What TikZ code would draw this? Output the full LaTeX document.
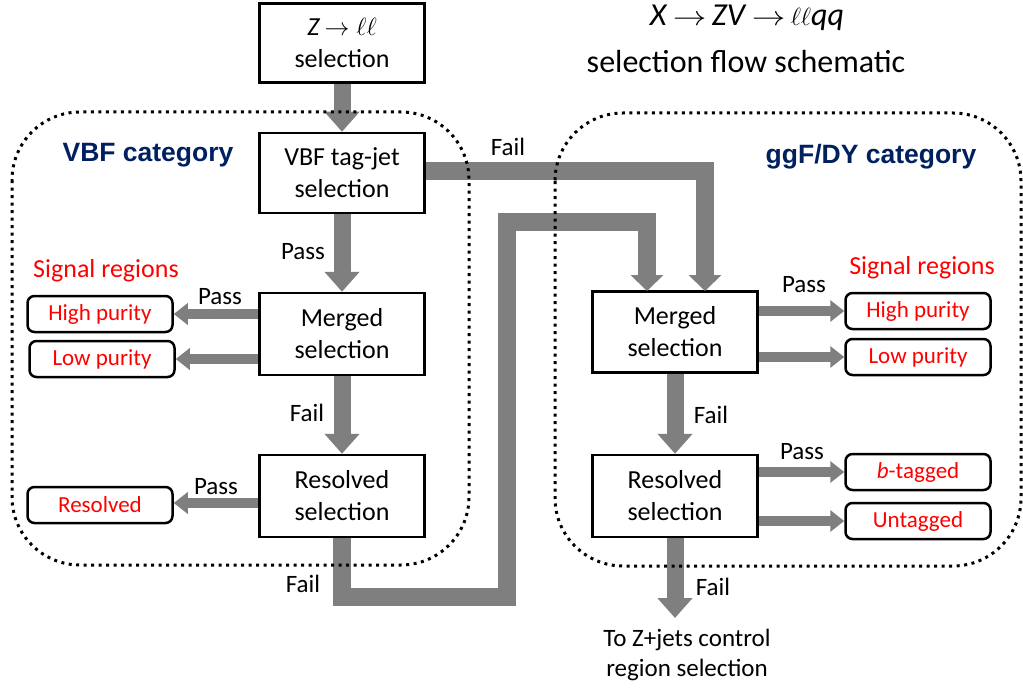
\documentclass[tikz,border=0pt]{standalone}
\usepackage{fontspec}
\setmainfont{Carlito}
\newfontfamily\catfont{Liberation Sans}
\usetikzlibrary{arrows.meta}
\definecolor{arrowgray}{HTML}{7F7F7F}
\definecolor{catblue}{HTML}{002060}
\newcommand{\longto}{\,\scalebox{1.35}[1.1]{$\rightarrow$}\,}

\begin{document}
\begin{tikzpicture}
    [x=1pt,y=-1pt,line join=miter,
     sel/.style={draw,line width=2.5pt,align=center,inner sep=0pt,font=\fontsize{26}{32}\selectfont},
     sig/.style={draw,line width=2.5pt,rounded corners=7pt,text=red,minimum width=145pt,minimum height=36pt,inner sep=0pt,font=\fontsize{23}{28}\selectfont},
     lbl/.style={font=\fontsize{25}{30}\selectfont},
     cat/.style={text=catblue,font=\catfont\bfseries\fontsize{26.5}{30}\selectfont},
     bigarrow/.style={draw=arrowgray,line width=17pt,-{Triangle[width=34pt,length=20pt]}},
     smallarrow/.style={draw=arrowgray,line width=10pt,-{Triangle[width=21pt,length=14pt]}},
     failpath/.style={draw=arrowgray,line width=18pt,-{Triangle[width=32pt,length=16pt]}},
     region/.style={draw,line width=3pt,dash pattern=on 3pt off 4.5pt,rounded corners=68pt}]
    \useasboundingbox (0,0) rectangle (1023,690);

    % titles
    \node (ntitle) at (747,18) {\fontsize{32}{38}\selectfont\textit{X}\longto\textit{ZV}\longto$\ell\ell$\textit{qq}};
    \node (nsub) at (746,62) {\fontsize{32}{38}\selectfont selection flow schematic};
    \node[cat] (nvbfcat) at (148,155) {VBF category};
    \node[cat] (nggfcat) at (871,157) {ggF/DY category};

    % selection boxes
    \node[sel,minimum width=165pt,minimum height=79pt] (nz) at (342,43) {\textit{Z}\,$\rightarrow\ell\ell$\\selection};
    \node[sel,minimum width=165pt,minimum height=80pt] (nvbf) at (342,173) {VBF tag-jet\\selection};
    \node[sel,minimum width=165pt,minimum height=82pt] (nml) at (342,334) {Merged\\selection};
    \node[sel,minimum width=165pt,minimum height=82pt] (nrl) at (342,496) {Resolved\\selection};
    \node[sel,minimum width=165pt,minimum height=81pt] (nmr) at (675,332) {Merged\\selection};
    \node[sel,minimum width=165pt,minimum height=82pt] (nrr) at (675,496) {Resolved\\selection};

    % signal region boxes
    \node[red,font=\fontsize{26}{30}\selectfont] (nsigl) at (106,271) {Signal regions};
    \node[red,font=\fontsize{26}{30}\selectfont] (nsigr) at (922,268) {Signal regions};
    \node[sig] (nhpl) at (100,314) {High purity};
    \node[sig] (nlpl) at (102,359) {Low purity};
    \node[sig] (nresl) at (100,505) {Resolved};
    \node[sig] (nhpr) at (918,311) {High purity};
    \node[sig] (nlpr) at (918,357) {Low purity};
    \node[sig] (nbt) at (918,472) {\textit{b}-tagged};
    \node[sig] (nut) at (918,521) {Untagged};

    \node[lbl,align=center] (ncr) at (687,655) {To Z+jets control\\region selection};

    % end points of the fail paths
    \coordinate (inA) at (647,291);
    \coordinate (inB) at (705,291);
    \coordinate (c1) at (507,597);
    \coordinate (c2) at (507,222);
    \coordinate (nend) at (675,618);

    % arrows
    \draw[bigarrow] (nz.south) -- (nvbf.north);
    \draw[bigarrow] (nvbf.south) -- (nml.north);
    \draw[bigarrow] (nml.south) -- (nrl.north);
    \draw[bigarrow] (nmr.south) -- (nrr.north);
    \draw[bigarrow] (nrr.south) -- (nend);
    \draw[failpath] (nvbf.east |- 0,171) -| (inB);
    \draw[failpath] (nrl.south) |- (c1) -- (c2) -| (inA);

    \draw[smallarrow] (nml.west |- nhpl) -- (nhpl.east);
    \draw[smallarrow] (nml.west |- nlpl) -- (nlpl.east);
    \draw[smallarrow] (nrl.west |- 0,503) -- (nresl.east |- 0,503);
    \draw[smallarrow] (nmr.east |- nhpr) -- (nhpr.west);
    \draw[smallarrow] (nmr.east |- nlpr) -- (nlpr.west);
    \draw[smallarrow] (nrr.east |- nbt) -- (nbt.west);
    \draw[smallarrow] (nrr.east |- nut) -- (nut.west);

    % pass / fail labels
    \node[lbl] (lfail1) at (508,147) {Fail};
    \node[lbl] (lpass1) at (303,252) {Pass};
    \node[lbl] (lpass2) at (220,297) {Pass};
    \node[lbl] (lfail2) at (307,413) {Fail};
    \node[lbl] (lpass3) at (216,487) {Pass};
    \node[lbl] (lfail3) at (303,584) {Fail};
    \node[lbl] (lpass4) at (804,285) {Pass};
    \node[lbl] (lfail4) at (711,415) {Fail};
    \node[lbl] (lpass5) at (802,452) {Pass};
    \node[lbl] (lfail5) at (713,587) {Fail};

    % category regions
    \draw[region] (12,112) rectangle (469,565);
    \draw[region] (555,113) rectangle (1021,566);
\end{tikzpicture}
\end{document}
